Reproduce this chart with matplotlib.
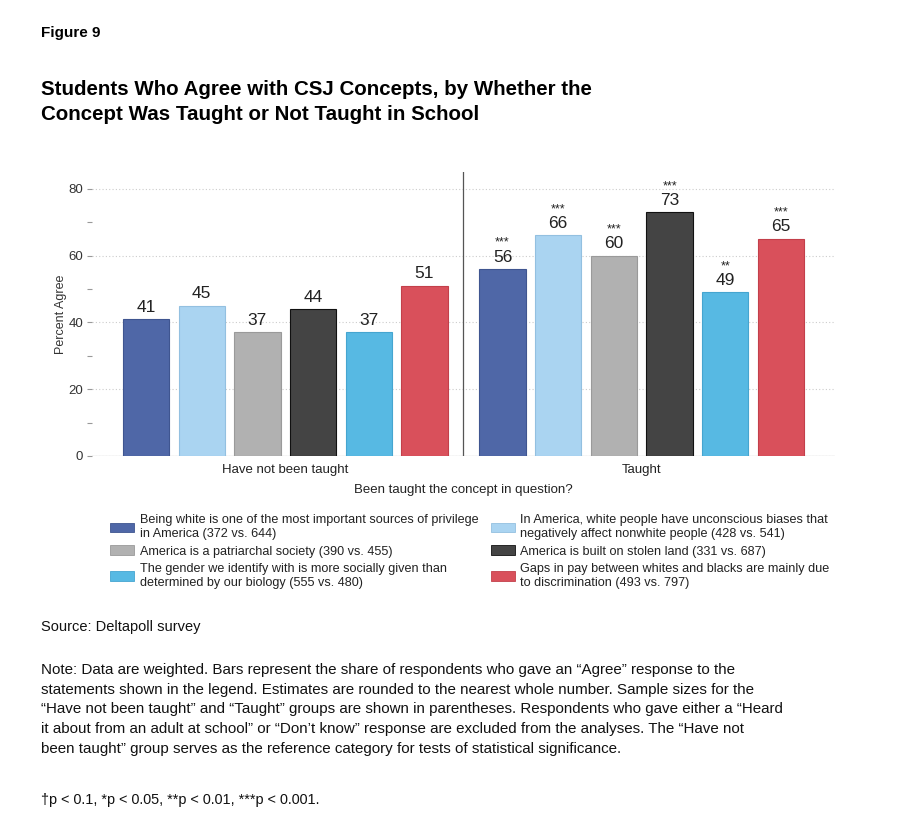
import numpy as np
import matplotlib
matplotlib.use('Agg')
import matplotlib.pyplot as plt
from matplotlib.patches import Patch

plt.rcParams['font.family'] = ['Liberation Sans', 'DejaVu Sans']

# data
groups = ['Have not been taught', 'Taught']
concepts = [
    'Being white is one of the most important sources of privilege\nin America (372 vs. 644)',
    'In America, white people have unconscious biases that\nnegatively affect nonwhite people (428 vs. 541)',
    'America is a patriarchal society (390 vs. 455)',
    'America is built on stolen land (331 vs. 687)',
    'The gender we identify with is more socially given than\ndetermined by our biology (555 vs. 480)',
    'Gaps in pay between whites and blacks are mainly due\nto discrimination (493 vs. 797)',
]
not_taught = [41, 45, 37, 44, 37, 51]
taught = [56, 66, 60, 73, 49, 65]
taught_stars = ['***', '***', '***', '***', '**', '***']
colors = ['#4f67a7', '#aad4f1', '#b1b1b1', '#444444', '#57b9e3', '#d9505b']
edges = ['#3f5590', '#93c0e0', '#9a9a9a', '#111111', '#45a5d0', '#c33f4a']

fig = plt.figure(figsize=(9.1, 8.24), dpi=100)
ax = fig.add_axes([92 / 910, 1 - 456 / 824, (835 - 92) / 910, (456 - 172) / 824])

n = len(concepts)
x_left = np.arange(n)
x_right = np.arange(n) + n + 0.4
w = 0.83

ax.bar(x_left, not_taught, width=w, color=colors, edgecolor=edges, linewidth=0.8, zorder=3)
ax.bar(x_right, taught, width=w, color=colors, edgecolor=edges, linewidth=0.8, zorder=3)

for xi, v in zip(x_left, not_taught):
    ax.text(xi, v + 1.3, str(v), ha='center', va='bottom', fontsize=12.5, color='#222222')
for xi, v, s in zip(x_right, taught, taught_stars):
    ax.text(xi, v + 1.3, str(v), ha='center', va='bottom', fontsize=12.5, color='#222222')
    ax.text(xi, v + 6.0, s, ha='center', va='bottom', fontsize=9, color='#222222')

sep = (x_left[-1] + x_right[0]) / 2
ax.axvline(sep, color='#555555', linewidth=0.9, zorder=4)
ax.axhline(0, color='#777777', linewidth=0.8, zorder=2)

ax.set_xlim(-0.97, x_right[-1] + 0.97)
ax.set_ylim(0, 85)
ax.set_yticks([0, 20, 40, 60, 80])
ax.set_yticks([10, 30, 50, 70], minor=True)
ax.tick_params(axis='y', which='both', length=3.5, width=0.8, color='#999999',
               labelsize=9.5, labelcolor='#333333', pad=3)
ax.set_xticks([])
ax.grid(axis='y', which='major', linestyle=(0, (1, 2)), color='#cccccc', linewidth=0.8, zorder=0)
for sp in ax.spines.values():
    sp.set_visible(False)

ax.set_ylabel('Percent Agree', fontsize=9, color='#333333', labelpad=1)

ax.text((x_left[0] + x_left[-1]) / 2, -2.3, groups[0], ha='center', va='top', fontsize=9.5, color='#222222')
ax.text((x_right[0] + x_right[-1]) / 2, -2.3, groups[1], ha='center', va='top', fontsize=9.5, color='#222222')
ax.text(sep, -8.3, 'Been taught the concept in question?', ha='center', va='top', fontsize=9.5, color='#222222')

handles = [Patch(facecolor=c, edgecolor=e, linewidth=0.6) for c, e in zip(colors, edges)]
order = [0, 2, 4, 1, 3, 5]
fig.legend([handles[i] for i in order], [concepts[i] for i in order],
           ncol=2, loc='upper left', bbox_to_anchor=(99 / 910, 1 - 503 / 824),
           frameon=False, fontsize=9.1, handlelength=1.9, handleheight=0.8,
           columnspacing=0.95, labelspacing=0.42, handletextpad=0.45, labelcolor='#222222')

fig.text(41 / 910, 1 - 33 / 824, 'Figure 9', fontsize=11, fontweight='bold', va='center')
fig.text(41 / 910, 1 - 102 / 824,
         'Students Who Agree with CSJ Concepts, by Whether the\nConcept Was Taught or Not Taught in School',
         fontsize=14.8, fontweight='bold', va='center', linespacing=1.4)
fig.text(41 / 910, 1 - 627 / 824, 'Source: Deltapoll survey', fontsize=10.5, va='center', color='#111111')
note = ('Note: Data are weighted. Bars represent the share of respondents who gave an \u201cAgree\u201d response to the\n'
        'statements shown in the legend. Estimates are rounded to the nearest whole number. Sample sizes for the\n'
        '\u201cHave not been taught\u201d and \u201cTaught\u201d groups are shown in parentheses. Respondents who gave either a \u201cHeard\n'
        'it about from an adult at school\u201d or \u201cDon\u2019t know\u201d response are excluded from the analyses. The \u201cHave not\n'
        'been taught\u201d group serves as the reference category for tests of statistical significance.')
fig.text(41 / 910, 1 - 663 / 824, note, fontsize=10.9, va='top', linespacing=1.52, color='#111111')
fig.text(41 / 910, 1 - 800 / 824, '\u2020p < 0.1, *p < 0.05, **p < 0.01, ***p < 0.001.', fontsize=10.4, va='center',
         color='#111111')

fig.savefig('out.png', dpi=100)
